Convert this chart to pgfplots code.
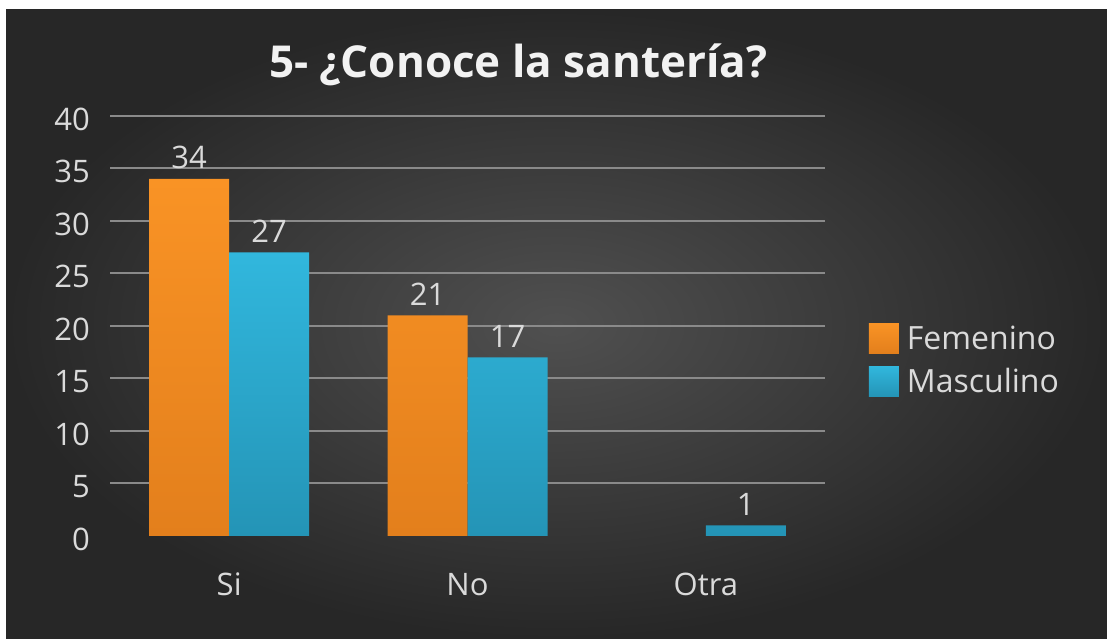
\documentclass[border=0pt]{standalone}
\usepackage{pgfplots}
\pgfplotsset{compat=1.18}
\usepackage{fontspec}
\setmainfont{Open Sans}
\definecolor{bgin}{HTML}{505050}
\definecolor{bgout}{HTML}{272727}
\definecolor{gridc}{HTML}{8A8A8A}
\definecolor{txt}{HTML}{DADADA}
\definecolor{orT}{HTML}{F99325}
\definecolor{orB}{HTML}{E37F1C}
\definecolor{blT}{HTML}{31B7DD}
\definecolor{blB}{HTML}{2494B6}
\begin{document}
\begin{tikzpicture}[x=1pt,y=1pt]
\fill[white] (0,0) rectangle (1107,639);
\shade[inner color=bgin, outer color=bgout] (6,0) rectangle (1107,629);
\begin{axis}[
  at={(110pt,103pt)}, anchor=south west,
  scale only axis, width=715pt, height=420pt,
  xmin=-0.5, xmax=2.5, ymin=0, ymax=40,
  ybar=0pt, bar width=80pt,
  axis line style={draw=none},
  major tick length=0pt,
  xtick={0,1,2}, xticklabels={Si,No,Otra},
  ytick={5,10,...,40},
  extra y ticks={0}, extra y tick style={grid=none},
  ymajorgrids, grid style={draw=gridc, line width=2pt},
  /pgf/number format/assume math mode=true,
  tick label style={font=\fontsize{31}{35}\selectfont, text=txt},
  yticklabel style={inner sep=0pt, xshift=-20pt, yshift=-3pt},
  xticklabel style={inner sep=0pt, anchor=base, yshift=-60pt},
  title={\textbf{5- ¿Conoce la santería?}},
  title style={font=\fontsize{44}{50}\selectfont, text=white!95!black, at={(0.571,1.078)}, anchor=base, inner sep=0pt},
  nodes near coords,
  nodes near coords style={font=\fontsize{31}{35}\selectfont, text=txt, inner sep=0pt, anchor=south, yshift=10pt},
  legend style={draw=none, fill=none, at={(1.057,0.419)}, anchor=west, font=\fontsize{32}{36}\selectfont, text=txt, legend cell align=left, row sep=13pt,
    nodes={inner xsep=8pt, inner ysep=0pt}},
  legend image code/.code={\path[#1, draw=none] (0pt,-15pt) rectangle (30pt,15pt);},
]
\addplot[draw=none, top color=orT, bottom color=orB] coordinates {(0,34) (1,21)};
\addplot[draw=none, top color=blT, bottom color=blB] coordinates {(0,27) (1,17) (2,1)};
\legend{Femenino, Masculino}
\end{axis}
\end{tikzpicture}
\end{document}
